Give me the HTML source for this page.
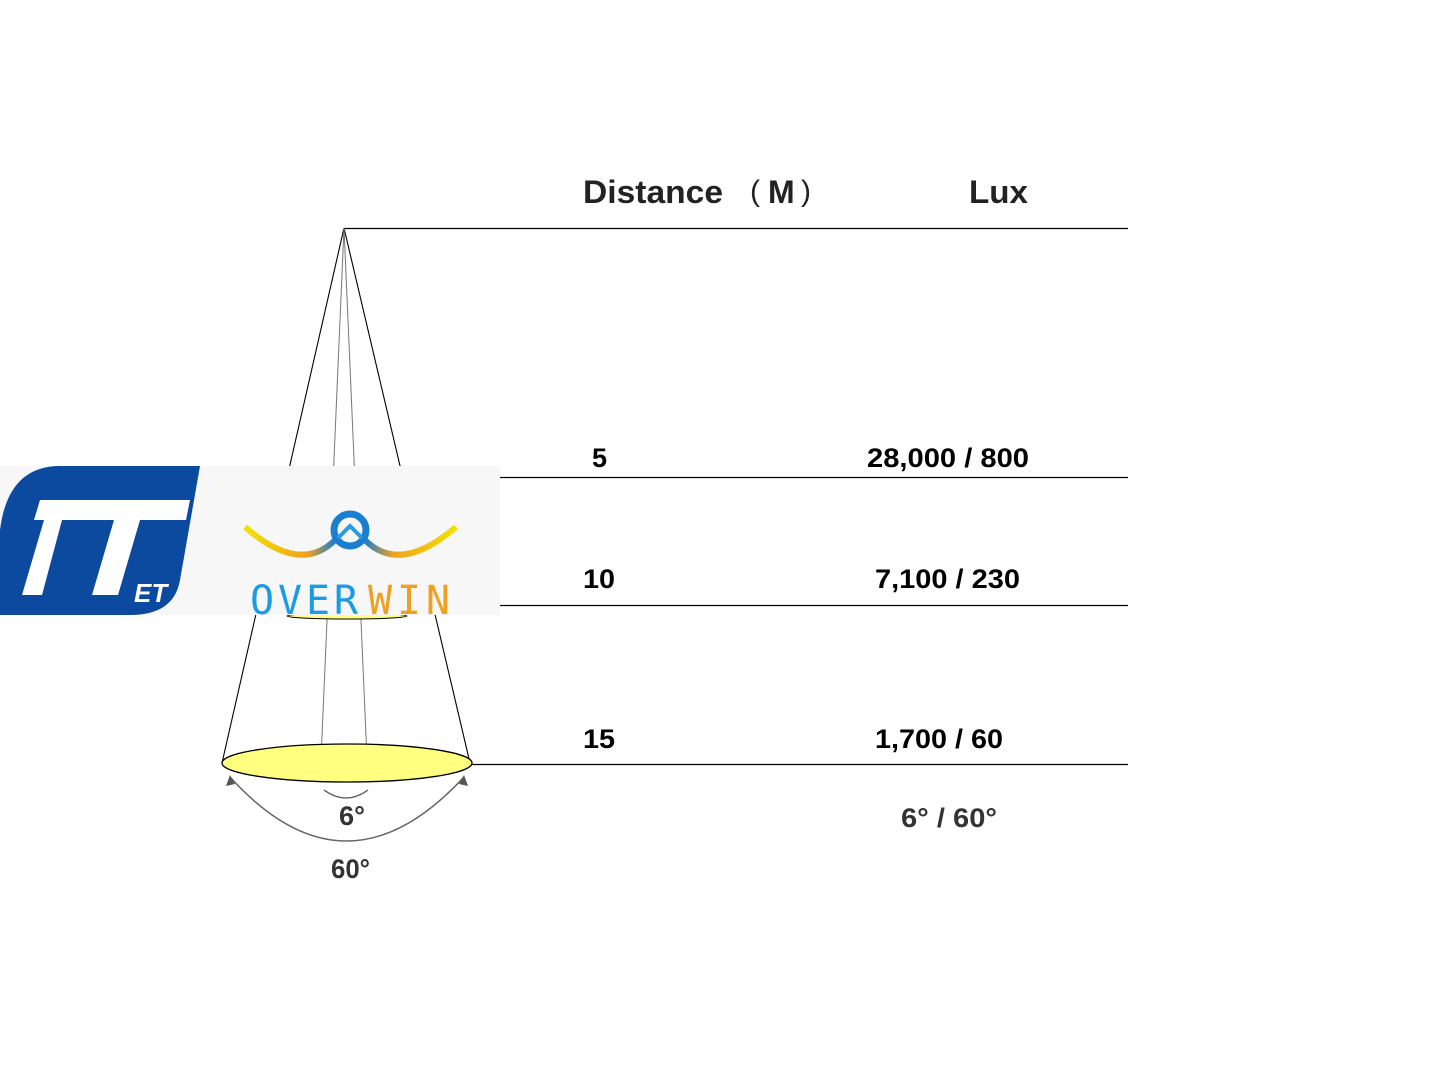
<!DOCTYPE html>
<html><head><meta charset="utf-8"><style>
html,body{margin:0;padding:0;background:#fff;}
svg{display:block;}
text{font-family:"Liberation Sans","Noto Sans CJK SC",sans-serif;font-weight:bold;}
.n{font-family:"Liberation Sans Narrow","Liberation Sans",sans-serif;}
</style></head><body>
<svg width="1433" height="1082" viewBox="0 0 1433 1082" xmlns="http://www.w3.org/2000/svg">
<defs>
<linearGradient id="wl" x1="0" x2="1"><stop offset="0" stop-color="#f2e200"/><stop offset="0.7" stop-color="#f0a020"/><stop offset="1" stop-color="#1a7fd0"/></linearGradient>
<linearGradient id="wr" x1="1" x2="0"><stop offset="0" stop-color="#f2e200"/><stop offset="0.7" stop-color="#f0a020"/><stop offset="1" stop-color="#1a7fd0"/></linearGradient>
</defs>
<line x1="344" y1="228.5" x2="1128" y2="228.5" stroke="#000" stroke-width="1.2"/>
<line x1="500" y1="477.5" x2="1128" y2="477.5" stroke="#000" stroke-width="1.2"/>
<line x1="500" y1="605.5" x2="1128" y2="605.5" stroke="#000" stroke-width="1.2"/>
<line x1="472" y1="764.5" x2="1128" y2="764.5" stroke="#000" stroke-width="1.2"/>
<text x="583" y="203" font-size="32" fill="#222" textLength="140" lengthAdjust="spacingAndGlyphs">Distance</text>
<text x="750" y="201" font-size="30" fill="#222" style="font-weight:normal">(</text>
<text x="768" y="203" font-size="32" fill="#222">M</text>
<text x="801" y="201" font-size="30" fill="#222" style="font-weight:normal">)</text>
<text x="969" y="203" font-size="32" fill="#222" textLength="59" lengthAdjust="spacingAndGlyphs">Lux</text>
<text x="592" y="467" font-size="27" fill="#000">5</text>
<text x="867" y="467" font-size="27" fill="#000" textLength="162" lengthAdjust="spacingAndGlyphs">28,000 / 800</text>
<text x="583" y="588" font-size="27" fill="#000" textLength="32" lengthAdjust="spacingAndGlyphs">10</text>
<text x="875" y="588" font-size="27" fill="#000" textLength="145" lengthAdjust="spacingAndGlyphs">7,100 / 230</text>
<text x="583" y="748" font-size="27" fill="#000" textLength="32" lengthAdjust="spacingAndGlyphs">15</text>
<text x="875" y="748" font-size="27" fill="#000" textLength="128" lengthAdjust="spacingAndGlyphs">1,700 / 60</text>
<text class="n" x="901" y="827" font-size="27" fill="#333" textLength="96" lengthAdjust="spacingAndGlyphs">6°  / 60°</text>
<line x1="344" y1="228" x2="222" y2="763" stroke="#000" stroke-width="1.1"/>
<line x1="344" y1="228" x2="470" y2="763" stroke="#000" stroke-width="1.1"/>
<line x1="344" y1="228" x2="320" y2="782" stroke="#777" stroke-width="1"/>
<line x1="344" y1="228" x2="368" y2="782" stroke="#777" stroke-width="1"/>
<ellipse cx="347" cy="616" rx="60" ry="3" fill="#ffff80" stroke="#000"/>
<ellipse cx="347" cy="763" rx="125" ry="19" fill="#ffff80" stroke="#000" stroke-width="1.3"/>
<path d="M324 790 Q346 806 368 790" fill="none" stroke="#555" stroke-width="1.3"/>
<path d="M230 777 Q346 905 464 777" fill="none" stroke="#666" stroke-width="1.5"/>
<polygon points="230,775 226,786 235,784" fill="#555"/>
<polygon points="464,775 468,786 459,784" fill="#555"/>
<text class="n" x="339" y="825" font-size="27" fill="#333" textLength="26" lengthAdjust="spacingAndGlyphs">6°</text>
<text class="n" x="331" y="878" font-size="27" fill="#333" textLength="39" lengthAdjust="spacingAndGlyphs">60°</text>
<rect x="0" y="466" width="500" height="149" fill="#f7f7f7"/>
<path d="M60 466 L200 466 L180 580 Q174 615 130 615 L0 615 L0 530 Q8 466 60 466 Z" fill="#0b4a9e"/>
<path d="M40 500 L190 500 L186 520 L140 520 L118 595 L92 595 L114 520 L62 520 L42 595 L22 595 L44 520 L34 520 Z" fill="#fff"/>
<text x="134" y="602" font-size="26" fill="#fff" font-style="italic">ET</text>
<path d="M245 527 Q300 575 335 540" fill="none" stroke="url(#wl)" stroke-width="6"/>
<path d="M456 527 Q400 575 365 540" fill="none" stroke="url(#wr)" stroke-width="6"/>
<circle cx="350" cy="530" r="16" fill="none" stroke="#1a7fd0" stroke-width="7"/>
<path d="M338 538 L350 526 L362 538" fill="none" stroke="#2a9be0" stroke-width="4"/>
<text x="250" y="614" font-size="40" fill="#1a9be6" style="font-family:'DejaVu Sans Mono',monospace;font-weight:normal" textLength="108">OVER</text>
<text x="368" y="614" font-size="40" fill="#f0a020" style="font-family:'DejaVu Sans Mono',monospace;font-weight:normal" textLength="82">WIN</text>
</svg>
</body></html>
